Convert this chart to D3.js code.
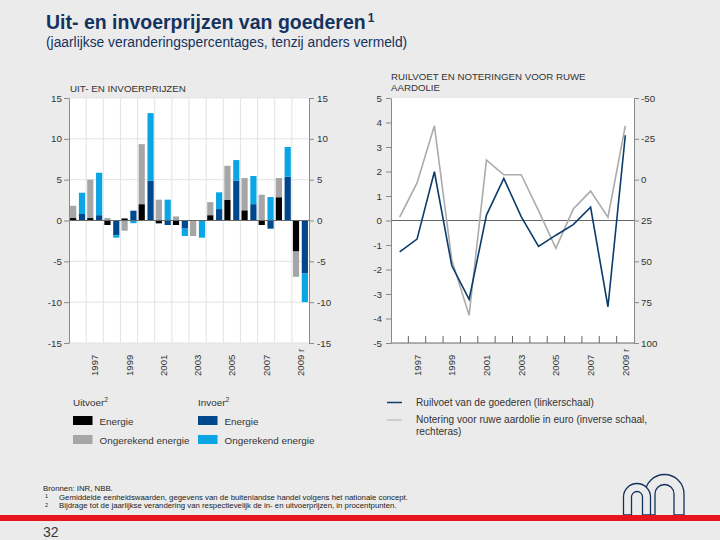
<!DOCTYPE html>
<html><head><meta charset="utf-8">
<script src="https://cdn.jsdelivr.net/npm/d3@7"></script>
<style>
body{margin:0;background:#ebebeb}
svg{display:block}
text{font-family:"Liberation Sans",Arial,sans-serif}
</style>
</head><body>
<svg id="c" width="720" height="540"></svg>
<script>
// ---------- DATA ----------
const years = [1996,1997,1998,1999,2000,2001,2002,2003,2004,2005,2006,2007,2008,2009];
const tickYears = [1997,1999,2001,2003,2005,2007,2009];
const tickLabels = ["1997","1999","2001","2003","2005","2007","2009 r"];
// Left panel: contributions (percentage points)
const exportEnergy    = [0.3, 0.3, -0.55, 0.25, 2.0, -0.35, -0.55, -0.1, 0.65, 2.55, 1.25, -0.55, 2.85, -3.8];
const exportNonEnergy = [1.5, 4.7, 0.3, -1.25, 7.35, 2.55, 0.5, -1.8, 1.6, 4.15, 3.95, 3.15, 2.35, -3.1];
const importEnergy    = [0.8, 0.65, -1.8, 1.2, 4.85, -0.55, -1.0, -0.05, 1.4, 4.9, 2.0, -1.0, 5.35, -6.5];
const importNonEnergy = [2.6, 5.2, -0.3, -0.33, 8.3, 2.55, -0.9, -2.05, 2.05, 2.5, 3.45, 2.87, 3.65, -3.5];
// Right panel
const termsOfTrade = [-1.28, -0.76, 1.99, -1.84, -3.22, 0.22, 1.72, 0.16, -1.06, -0.6, -0.17, 0.54, -3.52, 3.48];
const oilPriceEur  = [23, 2, -33, 49, 83, -12, -3, -3, 19, 42, 18, 7, 23, -33];
const leftTicks = [-15,-10,-5,0,5,10,15];
const rightLeftTicks = [-5,-4,-3,-2,-1,0,1,2,3,4,5];
const rightRightTicks = [-50,-25,0,25,50,75,100];

// ---------- STYLE ----------
const C = {
  navy:"#15335e", text:"#333", black:"#000", grey:"#a6a6a6",
  dblue:"#00488d", lblue:"#0aa5e4", line:"#0d3b6b", oil:"#ababab", axis:"#8a8a8a"
};
const svg = d3.select("#c");
svg.append("rect").attr("width",720).attr("height",540).attr("fill","#ebebeb");

// Titles
const t = svg.append("text").attr("x",46).attr("y",29).attr("fill",C.navy)
  .attr("font-size",19.5).attr("font-weight","bold");
t.append("tspan").text("Uit- en invoerprijzen van goederen");
t.append("tspan").attr("font-size",12).attr("dy",-7).attr("dx",2).text("1");
svg.append("text").attr("x",46).attr("y",47).attr("fill",C.navy).attr("font-size",13.8)
  .text("(jaarlijkse veranderingspercentages, tenzij anders vermeld)");

const yTop = 98, yBot = 343;
const fmt = d => String(d);

// ---------- LEFT PANEL ----------
const L = {x0:69, x1:309};
const xL = d3.scaleBand().domain(years).range([L.x0, L.x1]);
const xSub = d3.scaleBand().domain(["uit","in"]).range([0, xL.bandwidth()]).paddingInner(0.3).paddingOuter(0.12);
const yL = d3.scaleLinear().domain([-15,15]).range([yBot, yTop]);

svg.append("rect").attr("x",L.x0).attr("y",yTop).attr("width",L.x1-L.x0).attr("height",yBot-yTop).attr("fill","#fff");
// grid
svg.append("g").selectAll("line").data(leftTicks).join("line")
  .attr("x1",L.x0).attr("x2",L.x1).attr("y1",d=>yL(d)).attr("y2",d=>yL(d))
  .attr("stroke","#e3e3e3").attr("stroke-width",1);
svg.append("g").selectAll("line").data(years.slice(1)).join("line")
  .attr("x1",d=>xL(d)).attr("x2",d=>xL(d)).attr("y1",yTop).attr("y2",yBot)
  .attr("stroke","#e3e3e3").attr("stroke-width",1);

function stackIt(en, non){
  return d3.stack().keys(["energy","non"]).offset(d3.stackOffsetDiverging)
    (years.map((y,i)=>({year:y, energy:en[i], non:non[i]})));
}
const groups = [
  {key:"uit", series:stackIt(exportEnergy, exportNonEnergy), colors:[C.black, C.grey]},
  {key:"in",  series:stackIt(importEnergy, importNonEnergy), colors:[C.dblue, C.lblue]}
];
groups.forEach(g=>{
  g.series.forEach((s,si)=>{
    svg.append("g").attr("fill",g.colors[si]).selectAll("rect").data(s).join("rect")
      .attr("x",d=>xL(d.data.year)+xSub(g.key))
      .attr("width",xSub.bandwidth())
      .attr("y",d=>yL(Math.max(d[0],d[1])))
      .attr("height",d=>Math.abs(yL(d[0])-yL(d[1])));
  });
});
svg.append("line").attr("x1",L.x0).attr("x2",L.x1).attr("y1",yL(0)).attr("y2",yL(0))
  .attr("stroke","#666").attr("stroke-width",1);

function styleAxis(g){
  g.selectAll("path").attr("stroke",C.axis);
  g.selectAll("line").attr("stroke",C.axis);
  g.selectAll("text").attr("fill",C.text).attr("font-size",9.8)
    .attr("font-family",'"Liberation Sans",Arial,sans-serif');
}
svg.append("g").attr("transform",`translate(${L.x0},0)`)
  .call(d3.axisLeft(yL).tickValues(leftTicks).tickFormat(fmt).tickSize(5).tickSizeOuter(0).tickPadding(2))
  .call(styleAxis);
svg.append("g").attr("transform",`translate(${L.x1},0)`)
  .call(d3.axisRight(yL).tickValues(leftTicks).tickFormat(fmt).tickSize(5).tickSizeOuter(0).tickPadding(3))
  .call(styleAxis);

function yearLabels(xs){
  svg.append("g").selectAll("text").data(tickYears).join("text")
    .attr("transform",(d)=>`translate(${xs(d)+xs.bandwidth()/2+3.5},376) rotate(-90)`)
    .attr("fill",C.text).attr("font-size",9.6)
    .text((d,i)=>tickLabels[i]);
}
yearLabels(xL);

svg.append("text").attr("x",70).attr("y",92).attr("fill",C.text).attr("font-size",9.8)
  .text("UIT- EN INVOERPRIJZEN");

// ---------- RIGHT PANEL ----------
const R = {x0:391, x1:634};
const xR = d3.scaleBand().domain(years).range([R.x0, R.x1]);
const yR = d3.scaleLinear().domain([-5,5]).range([yBot, yTop]);
const yOil = d3.scaleLinear().domain([-50,100]).range([yTop, yBot]);
const cx = d=>xR(d)+xR.bandwidth()/2;

svg.append("rect").attr("x",R.x0).attr("y",yTop).attr("width",R.x1-R.x0).attr("height",yBot-yTop).attr("fill","#fff");
svg.append("line").attr("x1",R.x0).attr("x2",R.x1).attr("y1",yR(0)).attr("y2",yR(0))
  .attr("stroke","#666").attr("stroke-width",1);
// bottom axis with inward ticks at year boundaries
svg.append("line").attr("x1",R.x0).attr("x2",R.x1).attr("y1",yBot).attr("y2",yBot)
  .attr("stroke","#666");
svg.append("g").selectAll("line").data(years.slice(1)).join("line")
  .attr("x1",d=>xR(d)).attr("x2",d=>xR(d)).attr("y1",yBot).attr("y2",yBot-7)
  .attr("stroke","#666");

svg.append("path").datum(oilPriceEur)
  .attr("d",d3.line().x((d,i)=>cx(years[i])).y(d=>yOil(d)))
  .attr("fill","none").attr("stroke",C.oil).attr("stroke-width",1.6);
svg.append("path").datum(termsOfTrade)
  .attr("d",d3.line().x((d,i)=>cx(years[i])).y(d=>yR(d)))
  .attr("fill","none").attr("stroke",C.line).attr("stroke-width",1.6);

svg.append("g").attr("transform",`translate(${R.x0},0)`)
  .call(d3.axisLeft(yR).tickValues(rightLeftTicks).tickFormat(fmt).tickSize(5).tickSizeOuter(0).tickPadding(4))
  .call(styleAxis);
svg.append("g").attr("transform",`translate(${R.x1},0)`)
  .call(d3.axisRight(yOil).tickValues(rightRightTicks).tickFormat(fmt).tickSize(5).tickSizeOuter(0).tickPadding(2))
  .call(styleAxis);
yearLabels(xR);

svg.append("text").attr("x",391).attr("y",80).attr("fill",C.text).attr("font-size",9.7)
  .text("RUILVOET EN NOTERINGEN VOOR RUWE");
svg.append("text").attr("x",391).attr("y",90.8).attr("fill",C.text).attr("font-size",9.7)
  .text("AARDOLIE");

// ---------- LEGENDS ----------
function sup(sel, main, s){
  sel.append("tspan").text(main);
  sel.append("tspan").attr("font-size",6.8).attr("dy",-4).text(s);
}
sup(svg.append("text").attr("x",73).attr("y",406).attr("fill",C.text).attr("font-size",9.9), "Uitvoer","2");
sup(svg.append("text").attr("x",198).attr("y",406).attr("fill",C.text).attr("font-size",9.9), "Invoer","2");
const legItems = [
  {x:73, y:416, c:C.black, t:"Energie"},
  {x:73, y:435, c:C.grey, t:"Ongerekend energie"},
  {x:198, y:416, c:C.dblue, t:"Energie"},
  {x:198, y:435, c:C.lblue, t:"Ongerekend energie"}
];
legItems.forEach(d=>{
  svg.append("rect").attr("x",d.x).attr("y",d.y).attr("width",19.5).attr("height",9).attr("fill",d.c);
  svg.append("text").attr("x",d.x+26.5).attr("y",d.y+8.5).attr("fill",C.text).attr("font-size",9.9).text(d.t);
});
svg.append("line").attr("x1",387).attr("x2",402).attr("y1",402.5).attr("y2",402.5).attr("stroke",C.line).attr("stroke-width",1.5);
svg.append("text").attr("x",416).attr("y",405.5).attr("fill",C.text).attr("font-size",10.1)
  .text("Ruilvoet van de goederen (linkerschaal)");
svg.append("line").attr("x1",387).attr("x2",402).attr("y1",420).attr("y2",420).attr("stroke","#c4c4c4").attr("stroke-width",1.5);
svg.append("text").attr("x",416).attr("y",422.5).attr("fill",C.text).attr("font-size",10.1)
  .text("Notering voor ruwe aardolie in euro (inverse schaal,");
svg.append("text").attr("x",416).attr("y",434.5).attr("fill",C.text).attr("font-size",10.1)
  .text("rechteras)");

// ---------- FOOTNOTES ----------
const fn = svg.append("g").attr("fill","#222").attr("font-size",7.8);
fn.append("text").attr("x",43).attr("y",491).text("Bronnen: INR, NBB.");
fn.append("text").attr("x",45).attr("y",498).attr("font-size",5.5).text("1");
fn.append("text").attr("x",59).attr("y",499.5).text("Gemiddelde eenheidswaarden, gegevens van de buitenlandse handel volgens het nationale concept.");
fn.append("text").attr("x",45).attr("y",506.5).attr("font-size",5.5).text("2");
fn.append("text").attr("x",59).attr("y",508).text("Bijdrage tot de jaarlijkse verandering van respectievelijk de in- en uitvoerprijzen, in procentpunten.");

// ---------- LOGO ----------
function arch(cx0, cy, ro, ri, bottom){
  return `M${cx0-ro},${bottom} V${cy} A${ro},${ro} 0 0 1 ${cx0+ro},${cy} V${bottom} H${cx0+ri} V${cy} A${ri},${ri} 0 0 0 ${cx0-ri},${cy} V${bottom} Z`;
}
svg.append("path").attr("d",arch(664.5,494,19.5,9.5,515)).attr("fill","#ebebeb").attr("stroke",C.navy).attr("stroke-width",1.3);
svg.append("path").attr("d",arch(637,497,13.5,5.5,515)).attr("fill","#ebebeb").attr("stroke",C.navy).attr("stroke-width",1.3);

// red bar + page number
svg.append("rect").attr("x",0).attr("y",515).attr("width",720).attr("height",6).attr("fill","#e8161c");
svg.append("text").attr("x",43).attr("y",537).attr("fill","#3a3a3a").attr("font-size",14).text("32");
</script>
</body></html>
